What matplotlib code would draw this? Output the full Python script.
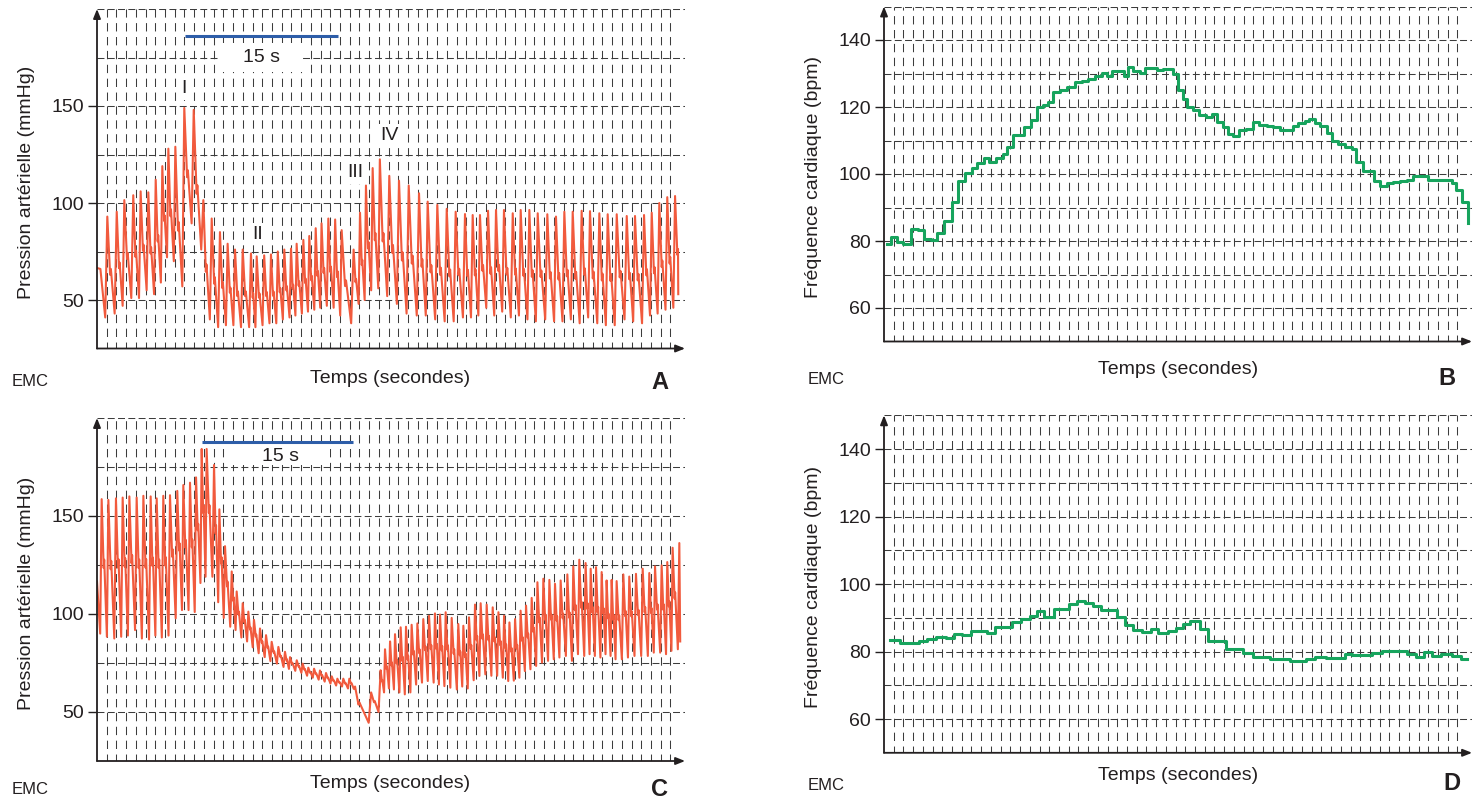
import matplotlib
matplotlib.use("Agg")
import matplotlib.pyplot as plt
from matplotlib.patches import Rectangle
import numpy as np

plt.rcParams["font.family"] = ["Liberation Sans", "DejaVu Sans"]
plt.rcParams["lines.scale_dashes"] = False

W, H = 1481, 802
RED = "#f15a3d"
GREEN = "#17a45d"
BLUE = "#2d5da8"
INK = "#231f20"
GRID = "#3c3c3c"

# time axis is in grid divisions (the 15 s bar gives the scale)
# Panel A: arterial pressure, mmHg (peak time, systolic, preceding diastolic)
A_START = [(0.0, 66.5), (0.35, 66.0)]
A_PEAK_T = [1.06, 2.03, 2.81, 3.73, 4.49, 5.28, 6.04, 6.72, 7.34, 8.06,
            8.98, 9.95, 10.94, 11.8, 12.65, 13.44, 14.2, 14.99, 15.84, 16.43,
            17.2, 17.9, 18.6, 19.27, 19.96, 20.54, 21.23, 21.84, 22.5, 23.1,
            23.8, 24.5, 25.17, 26.4, 27.06, 27.67, 28.36, 29.1, 30.07, 31.07,
            32.07, 33.13, 34.02, 35.01, 35.98, 36.9, 37.86, 38.65, 39.4, 40.23,
            41.05, 41.87, 42.77, 43.59, 44.48, 45.34, 46.33, 47.22, 48.08, 48.94,
            49.86, 50.72, 51.68, 52.54, 53.47, 54.5, 55.35, 56.28, 57.07, 57.85,
            58.67, 59.47]
A_SYS = [93, 95.5, 101.5, 104, 106, 105.5, 112, 119, 128, 129,
         149, 148, 101.5, 92, 85, 79, 76, 76, 74, 72.5,
         73, 73.5, 75, 76, 76.5, 79, 81, 83, 87, 89.5,
         92, 91.5, 86, 76, 95, 109, 118, 122.5, 114, 111.5,
         109, 105, 100.7, 99, 97, 95.5, 94.3, 93.8, 93.8, 96,
         96.4, 96.4, 94.7, 96.4, 96.4, 94.7, 94.2, 93, 95.5, 95.5,
         96, 95.8, 94.7, 94.2, 94.2, 93.3, 93.3, 93.8, 95, 100,
         103, 103.6]
A_DIA = [41, 43, 47, 51, 51, 55, 53, 59, 72, 70,
         57, 89.5, 76, 40, 36, 37, 37, 36, 36, 36,
         37, 38, 38, 40, 41, 42, 43, 44, 45, 46,
         47, 46, 42, 38, 48, 50, 55, 56, 52, 48,
         43, 42, 42, 40, 39, 39, 41, 41, 42, 46,
         42, 44, 41, 42, 40, 39, 40, 39, 39, 40,
         38, 41, 38, 37, 37, 40, 39, 38, 42, 43,
         45, 46]
A_END = (59.8, 53)
A_MARKS = ["I", "II", "III", "IV"]
A_MARK_POS = [(8.95, 159), (16.56, 84), (26.6, 115.5), (30.1, 135)]

# Panel C: arterial pressure, mmHg
C_START = [(0.0, 116.6)]
C_PEAK_T = [0.48, 1.17, 1.95, 2.64, 3.33, 4.08, 4.77, 5.52, 6.14, 6.82,
            7.51, 8.26, 8.88, 9.57, 10.19, 10.77, 11.28, 12.04, 12.59, 13.17,
            13.86, 14.37, 14.99, 15.57, 16.15, 16.77, 17.39, 17.97, 18.66, 19.34,
            19.86, 20.55, 21.16, 21.74, 22.33, 22.94, 23.56, 24.15, 24.73, 25.34,
            25.96, 26.55, 28.2, 29.18, 29.63, 30.15, 30.66, 31.24, 31.79, 32.37,
            32.96, 33.57, 34.16, 34.77, 35.29, 35.87, 36.49, 37.17, 37.69, 38.27,
            38.89, 39.47, 40.09, 40.71, 41.3, 41.88, 42.43, 43.01, 43.58, 44.14,
            44.72, 45.31, 45.92, 46.54, 47.12, 47.7, 48.39, 49.0, 49.62, 50.27,
            50.79, 51.34, 51.92, 52.43, 52.95, 53.46, 54.15, 54.76, 55.45, 56.14,
            56.82, 57.41, 58.09, 58.67, 59.22, 59.91]
C_SYS = [158.6, 158.2, 159, 159.4, 160, 159.4, 160.3, 160, 159, 160.3,
         160.6, 162.8, 165.8, 167, 169.7, 184.2, 184.2, 176, 153.4, 134.6,
         121.7, 111.5, 105.5, 101.2, 97, 92.6, 89.2, 85.8, 83.2, 80.7,
         78, 76.4, 74.7, 72.6, 72.1, 71.2, 69.9, 68.2, 67, 67,
         67, 63, 60, 71.3, 82, 86, 89.7, 93.2, 93.5, 94.5,
         95.2, 97.4, 99.1, 100.3, 99.7, 100.9, 98, 94.9, 94, 98.3,
         104.8, 105.5, 104.8, 103.4, 100.9, 99.1, 95.7, 97.4, 101.7, 104.3,
         108.2, 116.2, 118, 117.4, 115.4, 117.1, 120.2, 124.3, 127.7, 126,
         123.1, 123.9, 121.4, 117.1, 117.4, 116.8, 120.2, 119.1, 120.5, 123.1,
         120.9, 124.3, 124.8, 126.5, 133.8, 136.2]
C_DIA = [90, 88.4, 87.5, 88.4, 89, 91.8, 87.5, 87, 89, 88,
         89, 97.8, 102, 102, 101, 115.8, 119, 119, 106, 98,
         93.5, 91.8, 88, 86, 83, 80, 78, 76, 74.7, 73,
         72, 71, 70, 68.5, 67.5, 66.5, 65.5, 64.5, 63.5, 63,
         62, 61.8, 44.5, 50, 60, 62, 61.5, 60, 59, 60,
         64, 65, 65.8, 65, 64, 63.2, 62.4, 61.5, 63, 62,
         66.2, 68.4, 69.2, 68.5, 68.5, 67.5, 65.8, 66, 67.5, 70.9,
         71.8, 73.5, 75.2, 76.1, 76.9, 77.8, 78.6, 76.1, 79.5, 78.6,
         79.5, 78.6, 77.8, 79.5, 78.6, 76.9, 76.9, 77.8, 78.6, 78.6,
         78.6, 80.3, 80.3, 79.5, 81.2, 82]
C_END = (60.0, 86)

# Panel B: heart rate, bpm (step start, value)
B_T = [0.27, 0.69, 1.3, 1.99, 2.74, 3.53, 4.1, 4.8, 5.49, 6.17,
       6.96, 7.65, 8.33, 9.02, 9.6, 10.29, 10.84, 11.52, 12.21, 12.69,
       13.3, 14.4, 15.09, 15.71, 16.32, 16.91, 17.42, 18.11, 18.79, 19.65,
       20.33, 21.02, 21.71, 22.39, 22.98, 23.42, 24.69, 25.14, 25.65, 26.34,
       26.85, 28.05, 28.74, 29.77, 30.28, 30.73, 31.2, 31.82, 32.44, 33.13,
       33.71, 34.22, 34.84, 35.42, 35.94, 36.56, 37.24, 37.93, 38.61, 39.37,
       39.99, 40.74, 42.04, 42.63, 43.31, 43.76, 44.34, 44.86, 45.54, 46.06,
       46.74, 47.43, 48.11, 48.56, 49.31, 50.41, 51.03, 51.71, 52.4, 53.09,
       53.77, 54.46, 55.31, 56.0, 58.4, 58.85, 59.43, 60.11]
B_BPM = [79, 81.2, 79.7, 79.2, 83.5, 83.2, 80.7, 80.2, 82.4, 86,
         91.7, 98, 100.2, 101.7, 103.2, 104.7, 103.7, 104.7, 106.1, 108.1,
         111.6, 114.1, 116, 120, 120.5, 121.5, 124.5, 125, 126, 127.4,
         127.9, 128.4, 129.4, 130.1, 129.4, 130.7, 129.4, 131.9, 130.7, 130.1,
         131.7, 131.1, 131.4, 129.8, 125.2, 122.3, 119.9, 119.1, 117.6, 117.1,
         117.8, 115.6, 114, 112, 111.4, 113.2, 113.4, 115.6, 114.7, 114.4,
         114, 113.2, 114.4, 115.1, 115.9, 116.3, 115.3, 114.4, 112.2, 110,
         109, 108, 107.6, 103.5, 100.8, 97.8, 96.5, 97.3, 97.5, 97.8,
         98.1, 99.3, 99.5, 98.3, 97.3, 95.3, 91.6, 85.4]

# Panel D: heart rate, bpm
D_T = [0.6, 1.61, 3.61, 4.42, 5.34, 6.43, 7.23, 8.03, 8.96, 10.64,
       11.45, 13.13, 14.06, 14.98, 15.78, 16.47, 17.47, 19.08, 19.88, 20.68,
       21.49, 22.37, 23.98, 24.78, 25.58, 26.51, 27.43, 28.23, 29.2, 30.0,
       30.72, 31.53, 32.53, 33.33, 35.22, 36.95, 37.95, 39.76, 41.77, 43.37,
       44.38, 45.5, 47.39, 48.19, 50.2, 51.2, 53.82, 54.74, 55.54, 56.43,
       57.35, 58.43, 59.32, 60.0]
D_BPM = [83.4, 82.5, 83.2, 83.7, 84.2, 83.9, 85.1, 84.9, 86.1, 85.6,
         87.4, 88.8, 89.6, 90.4, 92.1, 90.1, 92.6, 94.1, 95, 94.4,
         93.6, 92.4, 90.1, 87.8, 86.4, 85.8, 86.6, 85.6, 86.1, 87.1,
         88.1, 89.1, 86.6, 83.2, 80.7, 79.5, 78.5, 77.7, 77.2, 77.7,
         78.4, 78.2, 79.2, 78.9, 79.7, 80.2, 79.4, 78.5, 80, 78.7,
         79.4, 78.7, 77.7, 77.7]

XMAX = 60.5


def pressure_trace(t_peak, sys, dia, start, end, notch):
    # beat by beat: trough, peak, dicrotic notch, then decay to next trough
    xs = [p[0] for p in start]
    ys = [p[1] for p in start]
    n = len(t_peak)
    for i in range(n):
        dt_prev = t_peak[i] - t_peak[i - 1] if i > 0 else t_peak[1] - t_peak[0]
        dt_next = t_peak[i + 1] - t_peak[i] if i < n - 1 else dt_prev
        xs += [t_peak[i] - min(0.22 * dt_prev, 0.25), t_peak[i]]
        ys += [dia[i], sys[i]]
        low = dia[i + 1] if i < n - 1 else end[1]
        level = low + notch * (sys[i] - low)
        for frac, lim, bump in [(0.3, 0.35, 0.0), (0.38, 0.45, 0.06)]:
            x = t_peak[i] + min(frac * dt_next, lim)
            if x < end[0]:
                xs.append(x)
                ys.append(level + bump * (sys[i] - low))
    xs.append(end[0])
    ys.append(end[1])
    return xs, ys


def px_axes(fig, left, top, right, bottom):
    return fig.add_axes([left / W, 1 - bottom / H, (right - left) / W, (bottom - top) / H])


def frame(ax, ylo, yhi, ystep, yticks, ylabel):
    ax.set_xlim(0, XMAX)
    ax.set_ylim(ylo, yhi)
    for s in ax.spines.values():
        s.set_visible(False)
    for g in range(1, 60):
        ax.axvline(g, color=GRID, lw=0.75, ls=(1, (6.0, 4.0)), zorder=1)
    for y in np.arange(ylo + ystep, yhi + 0.01, ystep):
        ax.axhline(y, color=GRID, lw=0.75, ls=(0, (5.0, 2.4)), zorder=1)
    ax.set_xticks([])
    ax.set_yticks(yticks)
    ax.set_yticklabels([str(v) for v in yticks])
    ax.tick_params(axis="y", direction="out", length=6.5, width=1.0, color=INK,
                   labelsize=14, labelcolor=INK, pad=3)
    ax.set_ylabel(ylabel, fontsize=14, color=INK)
    ax.yaxis.set_label_coords(-0.106, 0.49)
    arrow = dict(arrowstyle="-|>,head_length=0.55,head_width=0.22", lw=1.3,
                 color=INK, shrinkA=0, shrinkB=0)
    ax.annotate("", xy=(0, yhi), xytext=(0, ylo), arrowprops=arrow,
                annotation_clip=False, zorder=5)
    ax.annotate("", xy=(XMAX, ylo), xytext=(0, ylo), arrowprops=arrow,
                annotation_clip=False, zorder=5)


def scale_bar(ax, x0, x1, ybar, box, yt):
    # white patch behind the label hides the grid, as in the original figure
    ax.add_patch(Rectangle((box[0], box[2]), box[1] - box[0], box[3] - box[2],
                           facecolor="white", edgecolor="none", zorder=2))
    ax.plot([x0, x1], [ybar, ybar], color=BLUE, lw=2.2, solid_capstyle="butt", zorder=4)
    ax.text((box[0] + box[1]) / 2, yt, "15 s", fontsize=14, color=INK,
            ha="center", va="center", zorder=4)


def fig_text(fig, x, y, s, **kw):
    fig.text(x / W, 1 - y / H, s, ha="center", va="center", color=INK, **kw)


fig = plt.figure(figsize=(W / 100, H / 100), dpi=100)

axA = px_axes(fig, 97, 9, 97 + XMAX * 9.72, 348.5)
axC = px_axes(fig, 97, 418, 97 + XMAX * 9.72, 761)
axB = px_axes(fig, 884, 6.5, 884 + XMAX * 9.72, 341.5)
axD = px_axes(fig, 884, 415.3, 884 + XMAX * 9.72, 752.8)

for ax in (axA, axC):
    frame(ax, 25, 200, 25, [50, 100, 150], "Pression artérielle (mmHg)")
for ax in (axB, axD):
    frame(ax, 50, 150, 10, [60, 80, 100, 120, 140], "Fréquence cardiaque (bpm)")

xa, ya = pressure_trace(A_PEAK_T, A_SYS, A_DIA, A_START, A_END, 0.4)
axA.plot(xa, ya, color=RED, lw=1.5, solid_joinstyle="round", zorder=3)
xc, yc = pressure_trace(C_PEAK_T, C_SYS, C_DIA, C_START, C_END, 0.5)
axC.plot(xc, yc, color=RED, lw=1.5, solid_joinstyle="round", zorder=3)

axB.plot(B_T, B_BPM, drawstyle="steps-post", color=GREEN, lw=2.2, zorder=3)
axD.plot(D_T, D_BPM, drawstyle="steps-post", color=GREEN, lw=2.2, zorder=3)

scale_bar(axA, 9.05, 24.8, 186, (12.65, 21.2, 167.5, 182.5), 175)
scale_bar(axC, 10.77, 26.37, 188, (13.7, 24.0, 176.0, 185.2), 180.3)

for txt, (x, y) in zip(A_MARKS, A_MARK_POS):
    axA.text(x, y, txt, fontsize=14, color=INK, ha="center", va="center", zorder=2.5,
             bbox=dict(facecolor="white", edgecolor="none", pad=2))

for x, y in [(390, 378), (1178, 369), (390, 783), (1178, 776)]:
    fig_text(fig, x, y, "Temps (secondes)", fontsize=14)
for s, x, y in [("A", 660, 383), ("B", 1447, 378), ("C", 660, 790), ("D", 1452, 784)]:
    fig_text(fig, x, y, s, fontsize=17, fontweight="bold")
for x, y in [(30, 381), (826, 380), (30, 790), (826, 786)]:
    fig_text(fig, x, y, "EMC", fontsize=12,
             family=["Liberation Sans Narrow", "Liberation Sans", "DejaVu Sans"])

fig.savefig("out.png", dpi=100)
